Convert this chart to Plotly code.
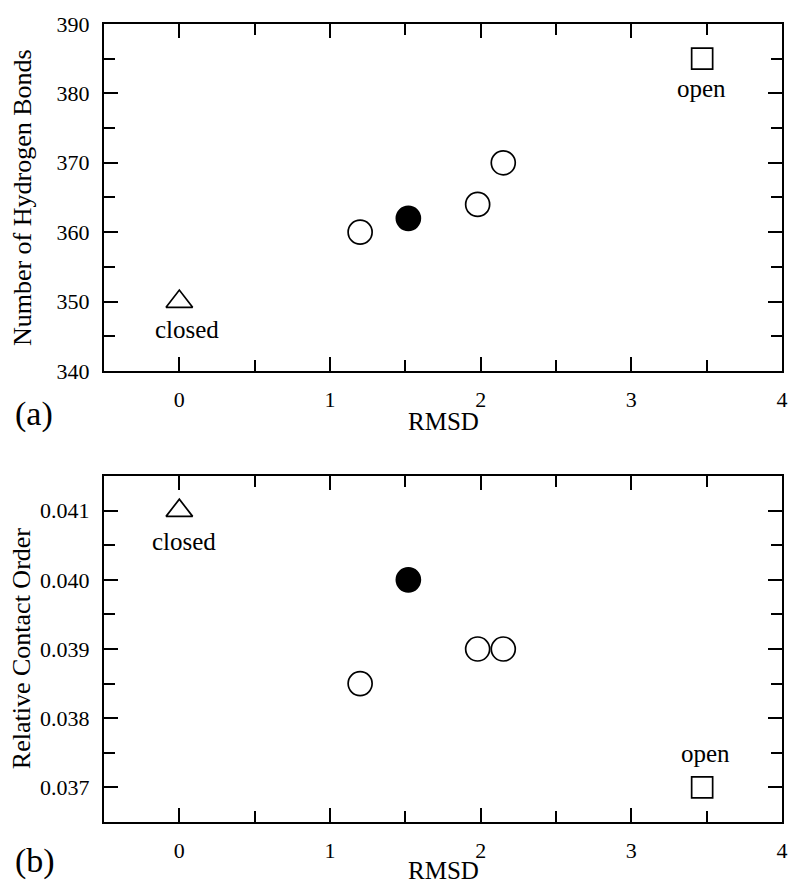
import plotly.graph_objects as go
from plotly.subplots import make_subplots

# ---- data ----
rmsd_closed = [0.0]
rmsd_open = [3.47]
rmsd_sim_open = [1.2, 1.98, 2.15]
rmsd_sim_filled = [1.52]

hbonds_closed = [350]
hbonds_open = [385]
hbonds_sim_open = [360, 364, 370]
hbonds_sim_filled = [362]

rco_closed = [0.041]
rco_open = [0.037]
rco_sim_open = [0.0385, 0.039, 0.039]
rco_sim_filled = [0.040]

x_ticks = [0, 1, 2, 3, 4]
hb_ticks = [340, 350, 360, 370, 380, 390]
rco_ticks = [0.037, 0.038, 0.039, 0.040, 0.041]

FONT = "Liberation Serif"
W, H = 800, 889
L, R, T, B = 104, 13, 17, 67
PH = H - T - B
PW = W - L - R

def py(pix):
    return (H - B - pix) / PH

def px(pix):
    return (pix - L) / PW

fig = make_subplots(rows=2, cols=1)
fig.update_layout(
    yaxis=dict(domain=[py(367), 1.0]),
    yaxis2=dict(domain=[0.0, py(473)]),
)

def add_panel(row, yc, yo, ys, yf):
    fig.add_trace(go.Scatter(x=rmsd_closed, y=yc, mode="markers",
        marker=dict(symbol="triangle-up", size=23, color="white",
                    line=dict(color="black", width=1.7))), row=row, col=1)
    fig.add_trace(go.Scatter(x=rmsd_open, y=yo, mode="markers",
        marker=dict(symbol="square", size=21, color="white",
                    line=dict(color="black", width=1.7))), row=row, col=1)
    fig.add_trace(go.Scatter(x=rmsd_sim_open, y=ys, mode="markers",
        marker=dict(symbol="circle", size=24, color="white",
                    line=dict(color="black", width=1.7))), row=row, col=1)
    fig.add_trace(go.Scatter(x=rmsd_sim_filled, y=yf, mode="markers",
        marker=dict(symbol="circle", size=24, color="black",
                    line=dict(color="black", width=1.7))), row=row, col=1)

add_panel(1, hbonds_closed, hbonds_open, hbonds_sim_open, hbonds_sim_filled)
add_panel(2, rco_closed, rco_open, rco_sim_open, rco_sim_filled)

axis_common = dict(
    showline=True, linecolor="black", linewidth=2, mirror="ticks",
    ticks="inside", ticklen=14, tickwidth=2, tickcolor="black",
    showgrid=False, zeroline=False,
    tickfont=dict(family=FONT, size=22, color="black"),
)
minor_common = dict(ticks="inside", ticklen=11, tickwidth=2, tickcolor="black", showgrid=False)

for r in (1, 2):
    fig.update_xaxes(range=[-0.5, 4], tickmode="array", tickvals=x_ticks,
                     ticktext=[str(v) for v in x_ticks],
                     minor=dict(dtick=0.5, tick0=0, **minor_common),
                     ticklabelstandoff=8, row=r, col=1, **axis_common)

fig.update_yaxes(range=[340, 390], tickmode="array", tickvals=hb_ticks,
                 ticktext=[str(v) for v in hb_ticks],
                 minor=dict(dtick=5, tick0=340, **minor_common),
                 ticklabelstandoff=8, row=1, col=1, **axis_common)
fig.update_yaxes(range=[0.0365, 0.0415], tickmode="array", tickvals=rco_ticks,
                 ticktext=[f"{v:.3f}" for v in rco_ticks],
                 minor=dict(dtick=0.0005, tick0=0.0365, **minor_common),
                 ticklabelstandoff=8, row=2, col=1, **axis_common)

ann_font = dict(family=FONT, size=25, color="black")
anns = [
    # point labels
    dict(x=rmsd_closed[0], y=hbonds_closed[0], xref="x", yref="y", text="closed",
         xshift=8, yshift=-28),
    dict(x=rmsd_open[0], y=hbonds_open[0], xref="x", yref="y", text="open",
         xshift=-1, yshift=-30),
    dict(x=rmsd_closed[0], y=rco_closed[0], xref="x2", yref="y2", text="closed",
         xshift=5, yshift=-31),
    dict(x=rmsd_open[0], y=rco_open[0], xref="x2", yref="y2", text="open",
         xshift=3, yshift=34),
    # axis titles
    dict(x=0.5, y=py(418), xref="paper", yref="paper", text="RMSD"),
    dict(x=0.5, y=py(871), xref="paper", yref="paper", text="RMSD"),
]
for a in anns:
    a.update(showarrow=False, font=ann_font, xanchor="center", yanchor="middle")
anns += [
    dict(x=px(22), y=py(192), xref="paper", yref="paper",
         text="Number of Hydrogen Bonds", textangle=-90, showarrow=False,
         font=dict(family=FONT, size=26, color="black"),
         xanchor="center", yanchor="middle"),
    dict(x=px(21), y=py(647), xref="paper", yref="paper",
         text="Relative Contact Order", textangle=-90, showarrow=False,
         font=dict(family=FONT, size=26, color="black"),
         xanchor="center", yanchor="middle"),
    dict(x=px(33), y=py(410), xref="paper", yref="paper", text="(a)",
         showarrow=False, font=dict(family=FONT, size=34, color="black"),
         xanchor="center", yanchor="middle"),
    dict(x=px(34), y=py(861), xref="paper", yref="paper", text="(b)",
         showarrow=False, font=dict(family=FONT, size=34, color="black"),
         xanchor="center", yanchor="middle"),
]

fig.update_layout(
    width=W, height=H,
    margin=dict(l=L, r=R, t=T, b=B),
    paper_bgcolor="white", plot_bgcolor="white",
    showlegend=False,
    hovermode=False,
    annotations=anns,
    font=dict(family=FONT, color="black"),
)

fig.write_html("out.html",
               config={"displayModeBar": False, "staticPlot": True},
               post_script="document.body.style.margin='0';document.body.style.padding='0';document.body.style.overflow='hidden';")
